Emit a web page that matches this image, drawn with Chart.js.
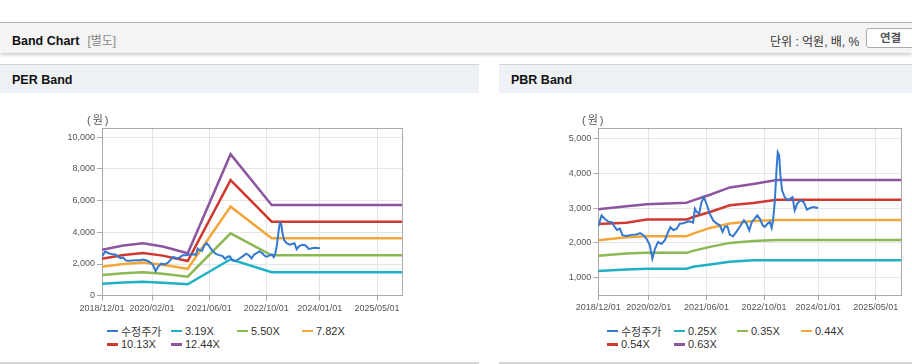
<!DOCTYPE html>
<html lang="ko">
<head>
<meta charset="utf-8">
<title>Band Chart</title>
<script src="https://cdn.jsdelivr.net/npm/chart.js@4.4.1/dist/chart.umd.min.js"></script>
<style>
  body { margin: 0; width: 912px; height: 364px; position: relative; overflow: hidden; background: #fff;
         font-family: "Liberation Sans", Arial, "Noto Sans CJK KR", sans-serif; }
  .topbar { position: absolute; left: 0; top: 22px; width: 912px; height: 30px; background: #f4f4f4;
            border-top: 1px solid #b4b4b4; box-shadow: 0 2px 3px rgba(0, 0, 0, 0.2); }
  .title { position: absolute; left: 12px; top: 8px; font-size: 12.5px; font-weight: bold; color: #111; }
  .title span { font-weight: normal; color: #888; margin-left: 8px; font-size: 12px; }
  .unit { position: absolute; left: 770px; top: 9px; font-size: 12px; color: #333; }
  .btn { position: absolute; left: 866px; top: 5px; width: 60px; height: 18px; border: 1px solid #aaa;
         border-radius: 3px; background: #fff; font-size: 11.5px; font-weight: bold; color: #555;
         line-height: 18px; text-indent: 13px; }
  .panel { position: absolute; top: 64px; height: 297px; border-top: 1px solid #d3d3d3;
           border-bottom: 2px solid #d6d6d6; background: #fff; }
  .phead { height: 28px; background: #eef2f7; font-size: 12.5px; font-weight: bold; color: #111;
           line-height: 30px; text-indent: 12px; }
  canvas { position: absolute; top: 94px; }
  .won { position: absolute; top: 111px; font-size: 11px; color: #555; letter-spacing: 2px; }
  .legend { position: absolute; top: 324px; display: grid; grid-auto-rows: 13.5px; font-size: 11px; color: #333; }
  .legend div { display: flex; align-items: center; white-space: nowrap; }
  .legend i { display: inline-block; width: 11px; height: 2.5px; margin-right: 3px; }
</style>
</head>
<body>
<div class="topbar">
  <div class="title">Band Chart<span>[별도]</span></div>
  <div class="unit">단위 : 억원, 배, %</div>
  <div class="btn">연결</div>
</div>

<div class="panel" style="left:0; width:479px;"><div class="phead">PER Band</div></div>
<div class="panel" style="left:499px; width:413px;"><div class="phead">PBR Band</div></div>

<canvas id="per" width="479" height="225" style="left:0;"></canvas>
<canvas id="pbr" width="413" height="225" style="left:499px;"></canvas>
<div class="won" style="left:87px;">(원)</div>
<div class="won" style="left:582px;">(원)</div>
<div class="legend" id="per-legend" style="left:107px; grid-template-columns:64px 66px 65px 65px;"></div>
<div class="legend" id="pbr-legend" style="left:607px; grid-template-columns:67px 63px 64px 64px;"></div>

<script>
// months counted from 2018/12/01
var tickMonths = [0, 14, 30, 46, 61, 77];
var tickLabels = ["2018/12/01", "2020/02/01", "2021/06/01", "2022/10/01", "2024/01/01", "2025/05/01"];
var colors = ["#3478cf", "#1fb1c6", "#8bb852", "#f2a73a", "#cf3a30", "#8d559f"];

var priceMonths = [0, 0.9, 1.9, 2.8, 3.7, 4.6, 5.2, 6, 6.7, 7.8, 9.2, 10.6, 11.6, 12.5, 13.4, 14.3, 15, 15.7,
  16.6, 17.5, 18.5, 19.4, 20, 20.8, 21.7, 22.6, 23.6, 24.5, 25.4, 26.3, 26.8, 27.2, 28, 28.6, 29.3, 30, 31,
  31.9, 32.8, 33.7, 34.5, 35.1, 35.8, 36.5, 37.4, 38.4, 39.3, 40.4, 41.1, 41.9, 42.6, 43.4, 44.1, 44.8,
  45.6, 46.2, 47, 47.6, 48.1, 48.5, 49, 49.5, 49.8, 50.2, 50.5, 51, 51.7, 52.6, 53.2, 53.9, 54.5, 55.2,
  56.1, 57, 57.9, 58.8, 59.7, 60.6, 61];
var priceValues = [2480, 2790, 2680, 2610, 2600, 2450, 2370, 2410, 2220, 2200, 2230, 2240, 2280, 2220, 2120,
  1930, 1550, 1820, 2030, 1970, 2080, 2320, 2450, 2370, 2400, 2550, 2560, 2600, 2620, 2580, 2980, 2900, 2840,
  3150, 3310, 3130, 2820, 2640, 2560, 2506, 2314, 2457, 2480, 2230, 2190, 2330, 2470, 2650, 2554, 2362,
  2600, 2697, 2791, 2697, 2506, 2457, 2554, 2600, 2430, 2649, 3220, 4171, 4600, 4506, 3983, 3506, 3314,
  3220, 3267, 3314, 2934, 3126, 3220, 3170, 2955, 3000, 3030, 3000, 3020];

var perLabels = ["수정주가", "3.19X", "5.50X", "7.82X", "10.13X", "12.44X"];
var perMonths = [0, 6, 11.5, 17, 24, 36, 47.5, 84];
var per319 = [750, 830, 880, 810, 720, 2300, 1480, 1480];
var per550 = [1300, 1420, 1480, 1390, 1200, 3940, 2550, 2550];
var per782 = [1830, 2000, 2100, 1960, 1700, 5620, 3620, 3620];
var per1013 = [2330, 2570, 2700, 2530, 2190, 7290, 4670, 4670];
var per1244 = [2893, 3165, 3314, 3100, 2685, 8931, 5723, 5723];
var perTicks = [0, 2000, 4000, 6000, 8000, 10000];

var pbrLabels = ["수정주가", "0.25X", "0.35X", "0.44X", "0.54X", "0.63X"];
var pbrMonths = [0, 7.8, 13.4, 24.5, 26.3, 31, 36.5, 43, 49.5, 84];
var pbr025 = [1191, 1240, 1260, 1260, 1314, 1383, 1457, 1500, 1506, 1506];
var pbr035 = [1629, 1697, 1714, 1714, 1771, 1886, 2000, 2057, 2080, 2080];
var pbr044 = [2077, 2160, 2191, 2191, 2268, 2429, 2554, 2629, 2655, 2655];
var pbr054 = [2540, 2575, 2668, 2668, 2743, 2886, 3077, 3143, 3240, 3240];
var pbr063 = [2963, 3049, 3106, 3154, 3220, 3380, 3590, 3690, 3805, 3805];
var pbrTicks = [1000, 2000, 3000, 4000, 5000];

function points(xs, ys) {
  return xs.map(function (x, i) { return { x: x, y: ys[i] }; });
}

// box around the plot area
var frame = {
  id: "frame",
  beforeDatasetsDraw: function (chart) {
    var a = chart.chartArea, c = chart.ctx;
    c.save();
    c.strokeStyle = "#aaa";
    c.lineWidth = 1;
    c.strokeRect(Math.round(a.left) + 0.5, Math.round(a.top) + 0.5,
      Math.round(a.right - a.left), Math.round(a.bottom - a.top));
    c.restore();
  }
};

var tickFont = { family: "Liberation Sans", size: 9 };

function bandChart(id, legendId, labels, bandMonths, bands, yMin, yMax, yTicks, box) {
  var sets = [points(priceMonths, priceValues)].concat(bands.map(function (b) {
    return points(bandMonths, b);
  }));
  var chart = new Chart(document.getElementById(id), {
    type: "line",
    data: {
      datasets: sets.map(function (d, i) {
        return {
          label: labels[i], data: d, borderColor: colors[i], backgroundColor: colors[i],
          borderWidth: i === 0 ? 2 : 2.5, pointRadius: 0, tension: 0
        };
      })
    },
    options: {
      responsive: false,
      animation: false,
      devicePixelRatio: 1,
      layout: { padding: { left: 0, right: box.right, top: box.top, bottom: 0 } },
      plugins: { legend: { display: false }, tooltip: { enabled: false } },
      scales: {
        x: {
          type: "linear", min: 0, max: 84,
          afterBuildTicks: function (s) { s.ticks = tickMonths.map(function (v) { return { value: v }; }); },
          afterFit: function (s) { s.height = box.xh; },
          grid: { color: "#e6e6e6", tickColor: "#aaa", tickLength: 5 },
          border: { color: "#aaa" },
          ticks: {
            autoSkip: false, maxRotation: 0, padding: 2, color: "#555", font: tickFont,
            callback: function (v, i) { return tickLabels[i]; }
          }
        },
        y: {
          min: yMin, max: yMax,
          afterBuildTicks: function (s) { s.ticks = yTicks.map(function (v) { return { value: v }; }); },
          afterFit: function (s) { s.width = box.yw; },
          grid: { color: "#e6e6e6", tickColor: "#aaa", tickLength: 5 },
          border: { color: "#aaa" },
          ticks: {
            padding: 2, color: "#555", font: tickFont,
            callback: function (v) { return v.toLocaleString("en-US"); }
          }
        }
      }
    },
    plugins: [frame]
  });

  var legend = document.getElementById(legendId);
  chart.data.datasets.forEach(function (ds) {
    var item = document.createElement("div");
    var mark = document.createElement("i");
    mark.style.background = ds.borderColor;
    item.appendChild(mark);
    item.appendChild(document.createTextNode(ds.label));
    legend.appendChild(item);
  });
  return chart;
}

bandChart("per", "per-legend", perLabels, perMonths, [per319, per550, per782, per1013, per1244],
  0, 10566, perTicks, { top: 34.3, right: 77, yw: 102, xh: 23.3 });
bandChart("pbr", "pbr-legend", pbrLabels, pbrMonths, [pbr025, pbr035, pbr044, pbr054, pbr063],
  506, 5286, pbrTicks, { top: 34.3, right: 11, yw: 99.3, xh: 24 });
</script>
</body>
</html>
